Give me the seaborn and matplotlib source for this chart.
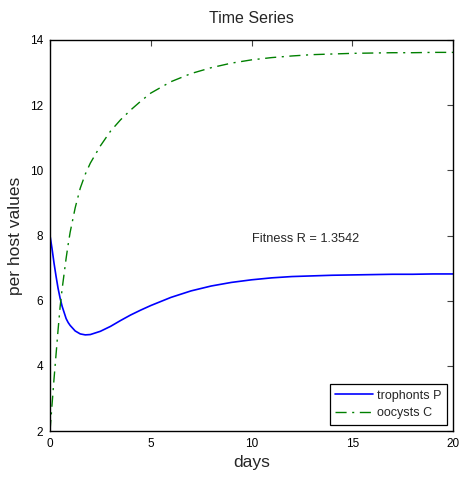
import numpy as np
import pandas as pd
import matplotlib
matplotlib.use("Agg")
import matplotlib.pyplot as plt
import seaborn as sns

# --- datos ---
dias = [0, 0.1, 0.2, 0.3, 0.4, 0.5, 0.6, 0.8, 0.9, 1.0, 1.25, 1.5, 1.75, 2, 2.5, 3, 3.5, 4,
        4.5, 5, 6, 7, 8, 9, 10, 11, 12, 13, 14, 15, 16, 17, 18, 19, 20]
trofontes_p = [8.0, 7.6, 7.15, 6.75, 6.38, 6.08, 5.83, 5.45, 5.33, 5.24, 5.07, 4.98, 4.95, 4.96,
               5.06, 5.21, 5.39, 5.56, 5.71, 5.85, 6.1, 6.3, 6.45, 6.56, 6.64, 6.7, 6.74, 6.76,
               6.78, 6.79, 6.8, 6.81, 6.81, 6.82, 6.82]
oocistos_c = [2.0, 2.8, 3.6, 4.35, 5.1, 5.8, 6.35, 7.3, 7.72, 8.1, 8.85, 9.45, 9.88, 10.22,
              10.75, 11.2, 11.55, 11.85, 12.12, 12.37, 12.72, 12.97, 13.15, 13.29, 13.39,
              13.46, 13.51, 13.55, 13.57, 13.59, 13.6, 13.61, 13.61, 13.62, 13.62]

etiquetas = ["trophonts P", "oocysts C"]
texto_fitness = "Fitness R = 1.3542"

df = pd.DataFrame({"dias": dias, "P": trofontes_p, "C": oocistos_c})

sns.set_style("white")
plt.rcParams["font.family"] = ["Liberation Sans", "DejaVu Sans"]

fig = plt.figure(figsize=(4.59, 4.79), dpi=100)
ax = fig.add_axes([50 / 459, 48 / 479, 403 / 459, 391 / 479])

sns.lineplot(data=df, x="dias", y="P", ax=ax, color=(0, 0, 1), lw=1.2,
             label=etiquetas[0], sort=False)
sns.lineplot(data=df, x="dias", y="C", ax=ax, color=(0, 0.5, 0), lw=1.0,
             label=etiquetas[1], sort=False, dashes=False)
ax.lines[1].set_dashes((8, 4, 1.5, 4))

ax.set_xlim(0, 20)
ax.set_ylim(2, 14)
ax.set_xticks([0, 5, 10, 15, 20])
ax.set_yticks([2, 4, 6, 8, 10, 12, 14])
ax.tick_params(direction="in", length=4, width=0.8, top=True, right=True,
               labelsize=8.5, color="#444444", labelcolor="black", pad=5)
for s in ax.spines.values():
    s.set_color("black")
    s.set_linewidth(1.0)

ax.set_title("Time Series", fontsize=11.5, pad=12)
ax.set_xlabel("days", fontsize=12.5, labelpad=4)
ax.set_ylabel("per host values", fontsize=12.5, labelpad=5)

ax.text(10, 7.9, texto_fitness, fontsize=9.2, va="center", ha="left")

leg = ax.legend(loc="lower right", fontsize=9, frameon=True, fancybox=False,
                framealpha=1, edgecolor="black", handlelength=3.0,
                borderaxespad=0.5, borderpad=0.45, labelspacing=0.45, handletextpad=0.3)
leg.get_frame().set_linewidth(0.9)
leg.get_lines()[1].set_dashes((8, 4, 1.5, 4))

fig.savefig("out.png", dpi=100)
